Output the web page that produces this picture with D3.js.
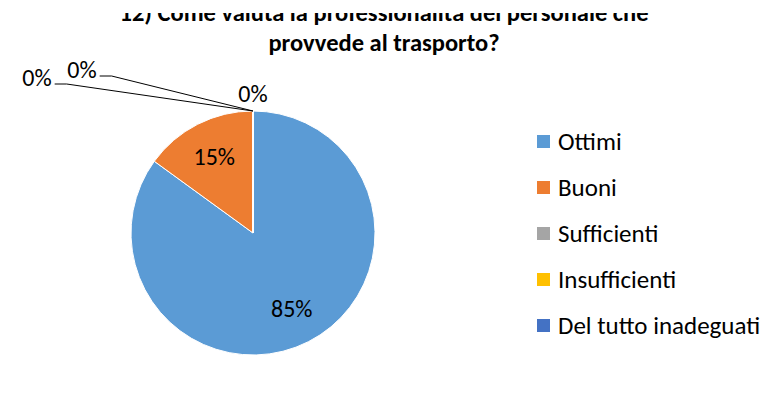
<!DOCTYPE html>
<html>
<head>
<meta charset="utf-8">
<script src="https://cdn.jsdelivr.net/npm/d3@7"></script>
<style>
body{margin:0;background:#fff}
svg{display:block}
text{font-family:Carlito, Lato, "Open Sans", sans-serif;fill:#000}
</style>
</head>
<body>
<svg id="chart" width="770" height="401"></svg>
<script>
// data
const categories = ["Ottimi", "Buoni", "Sufficienti", "Insufficienti", "Del tutto inadeguati"];
const values = [85, 15, 0, 0, 0];
const colors = ["#5B9BD5", "#ED7D31", "#A5A5A5", "#FFC000", "#4472C4"];
const titleLines = ["12) Come valuta la professionalità del personale che", "provvede al trasporto?"];

var width = 770, height = 401,
    cx = 253, cy = 233, radius = 122;

var svg = d3.select("#chart");

var color = d3.scaleOrdinal()
    .domain(categories)
    .range(colors);

var pct = d3.format(".0%"),
    total = d3.sum(values);

var table = categories.map(function(c, i){ return {name: c, value: values[i]}; });

var pie = d3.pie()
    .sort(null)
    .value(function(d){ return d.value; });

var arcs = pie(table);

var arc = d3.arc().innerRadius(0).outerRadius(radius);
var edge = d3.arc().innerRadius(radius).outerRadius(radius);
var inner = d3.arc().innerRadius(radius * 0.7).outerRadius(radius * 0.7);

// title (first line is cut at the top in the source)
svg.append("clipPath").attr("id", "titleclip")
    .append("rect").attr("x", 0).attr("y", 13).attr("width", width).attr("height", 60);

svg.append("g")
    .attr("clip-path", "url(#titleclip)")
    .selectAll("text")
    .data(titleLines)
    .enter()
    .append("text")
    .attr("x", 384)
    .attr("y", function(d, i){ return 21 + i * 30; })
    .attr("text-anchor", "middle")
    .style("font-size", "24.5px")
    .style("font-weight", "bold")
    .text(function(d){ return d; });

var g = svg.append("g").attr("transform", "translate(" + cx + "," + cy + ")");

g.selectAll("path")
    .data(arcs)
    .enter()
    .append("path")
    .attr("d", arc)
    .attr("fill", function(d){ return color(d.data.name); })
    .attr("stroke", "#fff")
    .attr("stroke-width", 1);

// where the zero-value labels sit, relative to the pie centre
var zeroLabels = {
    "Sufficienti": {dx: 0, dy: -139, leader: false},
    "Insufficienti": {dx: -171, dy: -163, leader: true},
    "Del tutto inadeguati": {dx: -216, dy: -155, leader: true}
};

arcs.forEach(function(d){
    var label = pct(d.value / total);
    if (d.value > 0) {
        var c = inner.centroid(d);
        g.append("text")
            .attr("x", c[0]).attr("y", c[1] + 8)
            .attr("text-anchor", "middle")
            .style("font-size", "24px")
            .text(label);
        return;
    }
    var z = zeroLabels[d.data.name];
    var t = g.append("text")
        .attr("x", z.dx).attr("y", z.dy + 8)
        .attr("text-anchor", "middle")
        .style("font-size", "24px")
        .text(label);
    if (z.leader) {
        var p = edge.centroid(d),
            x0 = z.dx + t.node().getComputedTextLength() / 2 + 3,
            y0 = z.dy + 6;
        g.append("polyline")
            .attr("points", [[x0, y0], [x0 + 12, y0], p].map(function(q){ return q.join(","); }).join(" "))
            .attr("fill", "none")
            .attr("stroke", "#000")
            .attr("stroke-width", 1);
    }
});

// legend
var legend = svg.append("g")
    .selectAll("g")
    .data(categories)
    .enter()
    .append("g")
    .attr("transform", function(d, i){ return "translate(537," + (142 + i * 46) + ")"; });

legend.append("rect")
    .attr("x", 0).attr("y", -7)
    .attr("width", 13).attr("height", 13)
    .attr("fill", function(d){ return color(d); });

legend.append("text")
    .attr("x", 21).attr("y", 8)
    .style("font-size", "25px")
    .text(function(d){ return d; });
</script>
</body>
</html>
